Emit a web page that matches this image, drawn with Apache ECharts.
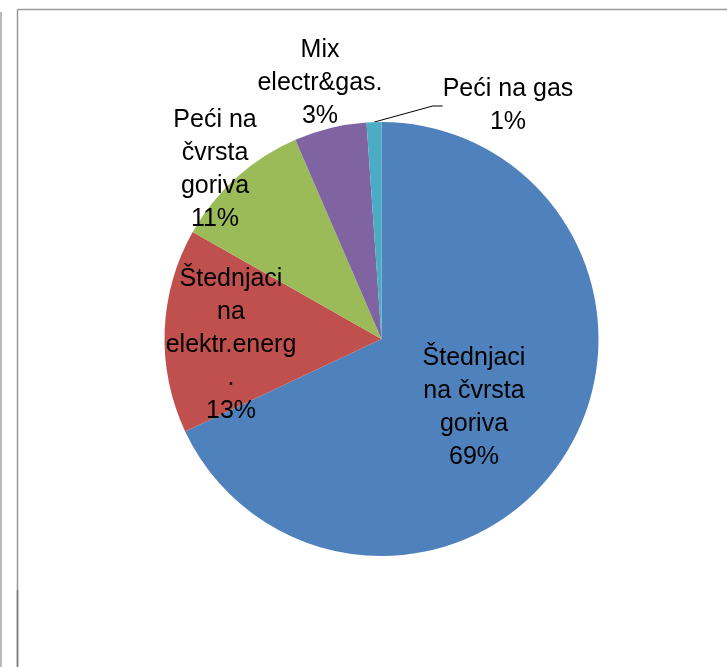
<!DOCTYPE html>
<html>
<head>
<meta charset="utf-8">
<script src="https://cdn.jsdelivr.net/npm/echarts@6/dist/echarts.min.js"></script>
<style>
  html, body { margin: 0; padding: 0; background: #fff; }
  #chart { width: 727px; height: 667px; }
</style>
</head>
<body>
<div id="chart"></div>
<script>
// categories (label text as printed on the chart)
const categories = [
  'Štednjaci\nna čvrsta\ngoriva',
  'Štednjaci\nna\nelektr.energ\n.',
  'Peći na\nčvrsta\ngoriva',
  'Mix\nelectr&gas.',
  'Peći na gas'
];
// slice sizes
const shares = [68.0, 15.2, 10.3, 5.4, 1.1];
// percentages as printed in the data labels
const printedPct = ['69%', '13%', '11%', '3%', '1%'];
const colors = ['#4F81BD', '#C0504D', '#9BBB59', '#8064A2', '#4BACC6'];

// where Excel placed each label (center, px)
const labelPos = [[474, 408], [231, 345], [215, 170], [320, 83], [508, 106]];

const chart = echarts.init(document.getElementById('chart'));

chart.setOption({
  animation: false,
  graphic: [
    { type: 'line', shape: { x1: 1, y1: 12, x2: 1, y2: 667 }, style: { stroke: '#8a8a8a', lineWidth: 1.2 } },
    { type: 'line', shape: { x1: 17.5, y1: 9.5, x2: 727, y2: 9.5 }, style: { stroke: '#999', lineWidth: 1.5 } },
    { type: 'line', shape: { x1: 17.5, y1: 9.5, x2: 17.5, y2: 590 }, style: { stroke: '#999', lineWidth: 1.5 } },
    { type: 'line', shape: { x1: 17.5, y1: 590, x2: 17.5, y2: 667 }, style: { stroke: '#7a7a7a', lineWidth: 1.8 } }
  ],
  series: [{
    type: 'pie',
    center: [381.5, 339],
    radius: 217,
    startAngle: 90,
    clockwise: true,
    avoidLabelOverlap: false,
    itemStyle: { borderWidth: 0 },
    emphasis: { disabled: true },
    label: {
      show: true,
      position: 'inside',
      color: '#000',
      fontFamily: 'Liberation Sans, Arial, sans-serif',
      fontSize: 25,
      lineHeight: 33,
      align: 'center',
      formatter: p => categories[p.dataIndex] + '\n' + printedPct[p.dataIndex]
    },
    labelLine: { show: false },
    labelLayout: p => ({
      x: labelPos[p.dataIndex][0],
      y: labelPos[p.dataIndex][1],
      align: 'center',
      verticalAlign: 'middle'
    }),
    data: shares.map((v, i) => ({
      name: categories[i],
      value: v,
      itemStyle: { color: colors[i] },
      label: i === 4 ? { position: 'outside' } : undefined,
      labelLine: i === 4 ? { show: true, length: 10, length2: 10, lineStyle: { color: '#000', width: 1 } } : undefined
    }))
  }]
});
</script>
</body>
</html>
